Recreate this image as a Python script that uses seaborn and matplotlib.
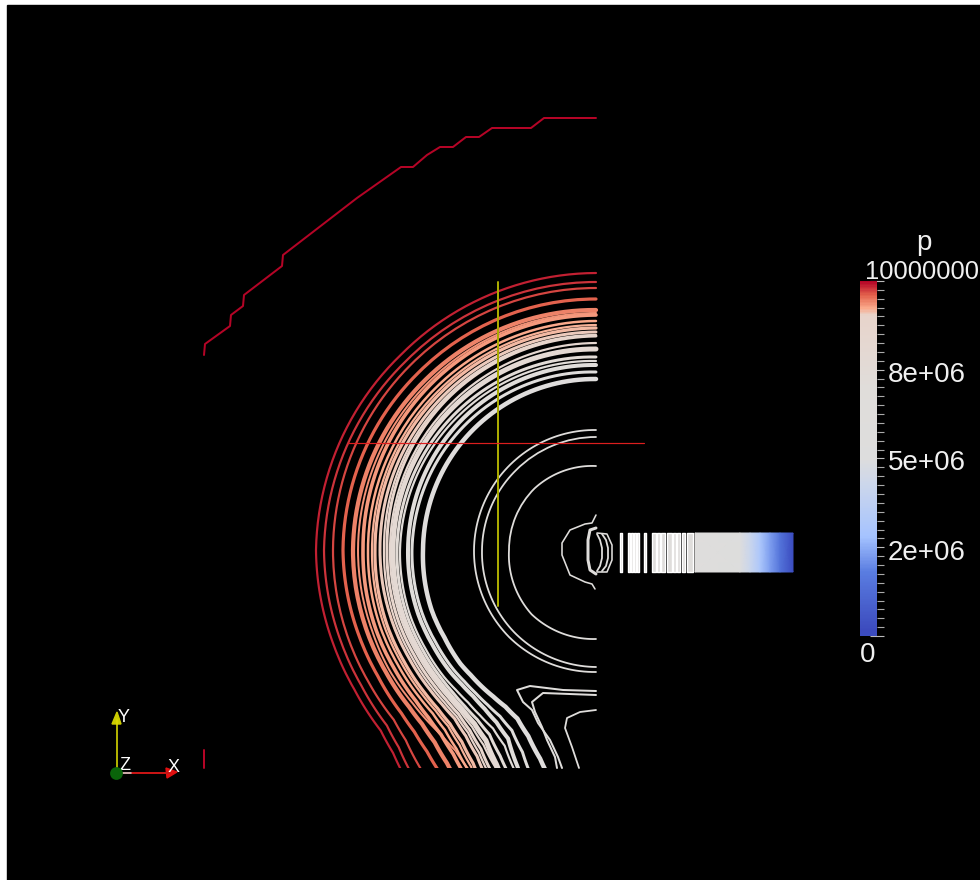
import numpy as np
import matplotlib
matplotlib.use("Agg")
import matplotlib.pyplot as plt
import seaborn as sns
from matplotlib.colors import LinearSegmentedColormap, Normalize
from matplotlib.cm import ScalarMappable
from matplotlib.patches import Rectangle

# ---------- data ----------
W, H = 980, 880
center_x, center_y = 596, 550
p_max = 1e7
cbar_positions = [0, .015, .18, .28, .43, .5, .7, .905, .925, .96, 1]
cbar_colors = ["#3b4cc0", "#3c4bbe", "#5a7de1", "#a5c3ff", "#cdd7eb", "#dddddd",
               "#e0ddda", "#e8d4cb", "#faaa8c", "#e4644e", "#b40426"]

# polar stations of the main contours (degrees) and radius at each station
station_deg = [90, 135, 180, 200, 210, 220, 225, 230, 235, 240, 245, 250, 255, 260]
contour_radii = [
    [277, 276, 280, 279, 279, 281, 287, 297],
    [268, 268, 272, 271, 271, 273, 279, 289],
    [262, 262, 263, 263, 263, 264, 269, 278, 287],
    [251, 251, 253, 252, 252, 254, 257, 263, 272, 282],
    [240, 241, 243, 243, 243, 244, 246, 251, 260, 272],
    [237, 237, 238, 238, 239, 239, 240, 241, 245, 254, 266],
    [235, 234, 233, 234, 234, 235, 237, 241, 249, 261],
    [229, 228, 228, 229, 229, 230, 231, 235, 243, 255],
    [225, 224, 224, 225, 225, 226, 227, 230, 238, 250, 268],
    [222, 221, 221, 222, 222, 223, 224, 227, 234, 246, 263],
    [218, 217, 216, 216, 216, 217, 218, 220, 227, 238, 255],
    [215, 214, 212, 213, 213, 214, 215, 217, 223, 234, 250],
    [214, 212, 209, 210, 210, 211, 212, 214, 220, 230, 246],
    [207, 206, 206, 207, 207, 208, 209, 211, 216, 225, 239, 258],
    [201, 202, 203, 204, 204, 205, 206, 208, 212, 220, 236, 255],
    [193, 196, 199, 200, 200, 201, 202, 204, 207, 213, 227, 245],
    [189, 192, 196, 197, 197, 198, 198, 199, 202, 206, 216, 236, 262],
    [185, 187, 188, 189, 189, 190, 190, 191, 194, 199, 208, 230, 255],
    [178, 181, 184, 185, 185, 186, 186, 187, 189, 192, 199, 215, 240],
    [171, 172, 173, 175, 175, 177, 177, 178, 179, 181, 186, 198, 216, 240],
]
contour_p = [9.88e6, 9.78e6, 9.7e6, 9.6e6, 9.42e6, 9.36e6, 9.3e6, 9.25e6, 9.18e6, 9.15e6,
             9.08e6, 9.0e6, 8.9e6, 8.3e6, 8.0e6, 7.5e6, 7.2e6, 7.0e6, 6.5e6, 6.0e6]
contour_widths_px = [2.2, 2.2, 2.2, 3.2, 4.2, 2, 3.6, 2.5, 2.2, 3.2, 3, 2.2, 3, 2.2, 5, 3, 2.2, 4, 3, 4.5]

# inner closed arcs
inner_deg = [90, 135, 180, 225, 270]
inner_radii = [
    [120, 121, 122, 123, 122],
    [113, 113, 114, 116, 117],
    [84, 87, 87, 91, 89],
]
inner_p = 6.5e6

# free polylines read in image coordinates
far_x = [596, 544, 531, 492, 479, 466, 453, 440, 427, 413, 401, 357, 283, 282, 244, 243, 231, 230, 205, 204]
far_y = [118, 118, 128, 128, 137, 137, 147, 147, 155, 167, 167, 198, 255, 266, 295, 306, 315, 326, 344, 355]
loop_d_x = [596, 563, 530, 517, 523, 532, 538, 550, 558, 562]
loop_d_y = [691, 690, 686, 690, 702, 710, 723, 740, 757, 768]
loop_e_x = [596, 543, 532, 535, 542, 547, 555, 557]
loop_e_y = [695, 693, 702, 712, 727, 740, 757, 768]
loop_f_x = [596, 580, 567, 565, 572, 579]
loop_f_y = [710, 712, 718, 728, 747, 768]
nose_outer_x = [596, 592, 585, 570, 562, 562, 570, 585, 592, 595]
nose_outer_y = [515, 523, 524, 530, 543, 555, 575, 582, 584, 589]
nose_mid_x = [596, 590, 588, 588, 590, 596]
nose_mid_y = [528, 530, 540, 560, 570, 574]
nose_loop1_x = [597, 607, 612, 612, 607, 597]
nose_loop1_y = [533, 534, 545, 560, 572, 572]
nose_loop2_x = [597, 600, 602, 602, 600, 597]
nose_loop2_y = [534, 540, 548, 558, 566, 571]
nose_loop3_x = [602, 606, 608, 608, 606, 602]
nose_loop3_y = [534, 540, 548, 558, 566, 571]

# colour-banded ribbon
ribbon_bands = [(620, 2), (628, 2), (631, 1.5), (634, 1.5), (637, 2), (644, 2), (652, 4), (657, 3), (661, 4),
                (667, 5), (673, 3), (677, 3), (682, 3), (687, 6)]
ribbon_x = [695, 740, 750, 760, 770, 780, 793]
ribbon_p = [6.0e6, 5.0e6, 4.2e6, 3.1e6, 2.3e6, 1.5e6, 0.0]

cbar_ticklabels = ["2e+06", "5e+06", "8e+06"]
cbar_ticks = [2.5e6, 5e6, 7.5e6]

# ---------- figure and layered axes ----------
sns.set_style("white")
plt.rcParams["font.family"] = ["Liberation Sans", "DejaVu Sans"]
px = 0.72
fig = plt.figure(figsize=(W / 100, H / 100), dpi=100, facecolor="white")
cmap = LinearSegmentedColormap.from_list("pv", list(zip(cbar_positions, cbar_colors)))
norm = Normalize(0, p_max)


def pixel_axes(z):
    a = fig.add_axes([0, 0, 1, 1], zorder=z)
    a.set_xlim(0, W)
    a.set_ylim(H, 0)
    a.axis("off")
    return a


back = pixel_axes(0)
back.add_patch(Rectangle((7, 5), W - 7, H - 5, color="black"))
front = pixel_axes(2)

R = 600
polar = fig.add_axes([(center_x - R) / W, (H - center_y - R) / H, 2 * R / W, 2 * R / H],
                     projection="polar", zorder=1)
polar.set_rlim(0, R)
polar.axis("off")
clip_band = Rectangle((0, 0), W, 768, transform=front.transData)


def polar_line(deg, radii, p, width):
    n = len(radii)
    sns.lineplot(x=np.deg2rad(deg[:n]), y=radii, ax=polar, color=cmap(norm(p)), linewidth=width * px,
                 estimator=None, sort=False, legend=False)
    line = polar.lines[-1]
    line.get_path()._interpolation_steps = 24
    line.set_clip_path(clip_band)


for radii, p, w in zip(contour_radii, contour_p, contour_widths_px):
    polar_line(station_deg, radii, p, w)
for radii in inner_radii:
    polar_line(inner_deg, radii, inner_p, 1.8)
polar.set_rlim(0, R)
polar.set_xlabel("")
polar.set_ylabel("")


def free_line(xs, ys, color, width):
    sns.lineplot(x=xs, y=ys, ax=front, color=color, linewidth=width * px, estimator=None, sort=False, legend=False)


white_line = cmap(norm(inner_p))
free_line(far_x, far_y, "#b40426", 2)
free_line([204, 204], [750, 768], "#b40426", 2)
for xs, ys, w in [(loop_d_x, loop_d_y, 2), (loop_e_x, loop_e_y, 2), (loop_f_x, loop_f_y, 1.8),
                  (nose_outer_x, nose_outer_y, 1.6), (nose_mid_x, nose_mid_y, 3),
                  (nose_loop1_x, nose_loop1_y, 1.6), (nose_loop2_x, nose_loop2_y, 1.8),
                  (nose_loop3_x, nose_loop3_y, 1.8)]:
    free_line(xs, ys, white_line, w)

# ribbon
front.broken_barh(ribbon_bands, (533, 39), facecolors=white_line)
front.pcolormesh(ribbon_x, [533, 572], np.array([ribbon_p, ribbon_p]), cmap=cmap, norm=norm, shading="gouraud")

# slice lines
free_line([497.5, 497.5], [282, 606], "#aaaa00", 2)
free_line([348, 644], [443.5, 443.5], "#dc1e1e", 1.2)

# orientation triad
free_line([116.5, 116.5], [773, 720], "#dcdc00", 1.6)
free_line([116, 170], [773, 773], "#c81414", 2)
free_line([120, 131], [773, 773], "#cccccc", 1.6)
front.fill([117, 112, 121], [712, 724, 724], color="#cccc00")
front.fill([177, 166, 167], [772, 768, 778], color="#e01010")
front.scatter([116], [773], s=85, color="#0a640a", zorder=5, linewidths=0)
for label, x, y in [("Y", 124, 718), ("Z", 125, 765), ("X", 174, 767)]:
    front.text(x, y, label, color="white", fontsize=13, ha="center", va="center")

# colour bar
cax = fig.add_axes([860 / W, (H - 636) / H, 17 / W, 355 / H], zorder=3)
cb = fig.colorbar(ScalarMappable(norm=norm, cmap=cmap), cax=cax)
cb.outline.set_visible(False)
cb.set_ticks([0] + cbar_ticks + [p_max], labels=[""] * 5)
cb.ax.set_yticks(np.arange(0, p_max + 1, p_max / 40), minor=True)
cb.ax.tick_params(which="minor", length=5, width=0.8, color="#aaaaaa", right=True)
cb.ax.tick_params(which="major", length=9.5, width=0.8, color="#bbbbbb", direction="inout", right=True)
for tick, label, y in zip(cbar_ticks, cbar_ticklabels, [553, 463, 375]):
    front.text(888, y, label, color="#f0f0f0", fontsize=20, ha="left", va="center")
front.text(979, 272, "10000000", color="#f0f0f0", fontsize=18.4, ha="right", va="center")
front.text(868, 655, "0", color="#f0f0f0", fontsize=20, ha="center", va="center")
front.text(924, 243, "p", color="#f0f0f0", fontsize=20, ha="center", va="center")

fig.savefig("out.png", dpi=100, facecolor="white")
